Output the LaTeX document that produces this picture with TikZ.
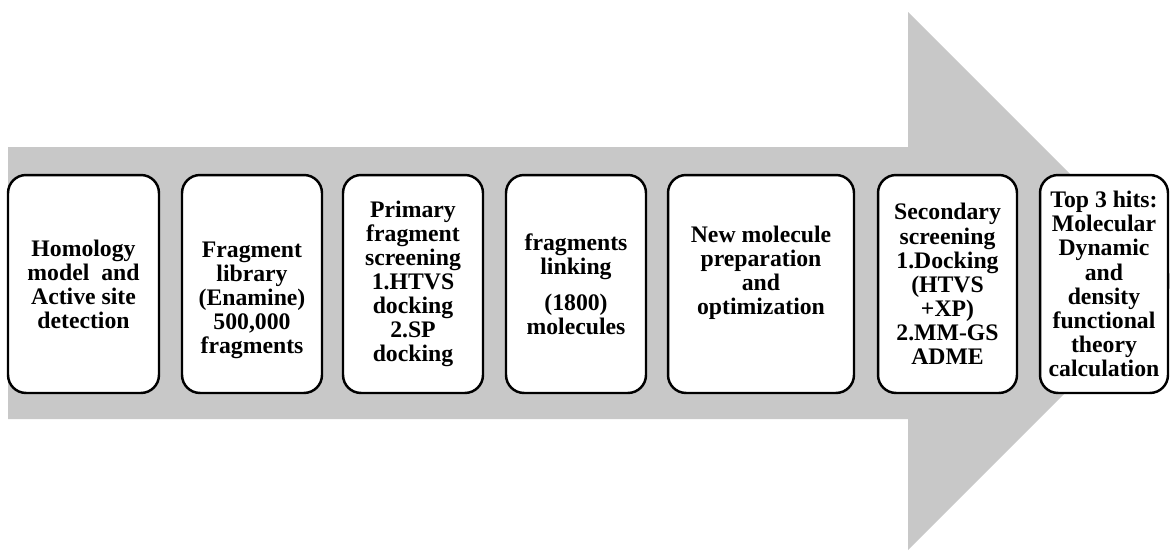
\documentclass[tikz,border=0pt]{standalone}
\usepackage{fontspec}
\setmainfont{Liberation Serif}
\definecolor{flgray}{RGB}{200,200,200}
\tikzset{
    fl arrow/.style={fill=flgray, draw=none},
    fl stage/.style={draw=black, line width=1.4pt, fill=white,
                     rounded corners=0.36cm, minimum height=4.36cm,
                     inner sep=0pt},
    fl text/.style={align=center, inner sep=0pt,
                    font=\fontsize{13.5}{13.7}\selectfont\bfseries},
}

\begin{document}
\begin{tikzpicture}[x=0.02cm, y=-0.02cm]
    \useasboundingbox (0,0) rectangle (1170,551);
    % Big gray arrow behind the stages
    \begin{scope}
        \clip (0,0) rectangle (1170,551);
        \fill[fl arrow] (8,147) -- (908,147) -- (908,12) -- (1177,281)
            -- (908,550) -- (908,419) -- (8,419) -- cycle;
    \end{scope}
    % Stage boxes
    \node[fl stage, minimum width=3.02cm] (s1) at (83.5,284) {};
    \node[fl stage, minimum width=2.80cm] (s2) at (252,284) {};
    \node[fl stage, minimum width=2.80cm] (s3) at (413,284) {};
    \node[fl stage, minimum width=2.80cm] (s4) at (576,284) {};
    \node[fl stage, minimum width=3.72cm] (s5) at (761,284) {};
    \node[fl stage, minimum width=2.78cm] (s6) at (947.5,284) {};
    \node[fl stage, minimum width=2.56cm] (s7) at (1104,284) {};
    % Stage texts
    \node[fl text] (t1) at (s1) {Homology\\model\ \ and\\Active site\\detection};
    \node[fl text] (t2) at ([yshift=-0.32cm]s2.center)
        {Fragment\\library\\(Enamine)\\500,000\\fragments};
    \node[fl text] (t3) at (s3)
        {Primary\\fragment\\screening\\1.HTVS\\docking\\2.SP\\docking};
    \node[fl text] (t4) at (s4) {fragments\\linking\\[0.24cm](1800)\\molecules};
    \node[fl text] (t5) at ([yshift=0.22cm]s5.center)
        {New molecule\\preparation\\and\\optimization};
    \node[fl text] (t6) at (s6)
        {Secondary\\screening\\1.Docking\\(HTVS\\+XP)\\2.MM-GS\\ADME};
    \node[fl text] (t7) at (s7)
        {Top 3 hits:\\Molecular\\Dynamic\\and\\density\\functional\\theory\\calculation};
\end{tikzpicture}
\end{document}
